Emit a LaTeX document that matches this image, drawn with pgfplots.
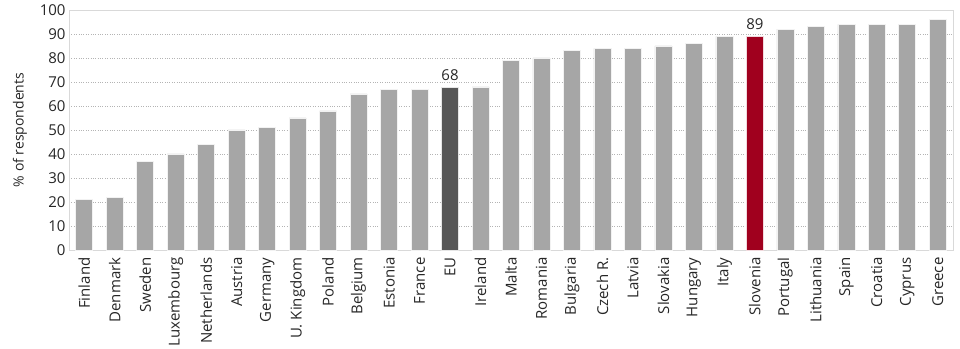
\documentclass[border=0pt]{standalone}
\usepackage{pgfplots}
\pgfplotsset{compat=1.18}
\usepackage{fontspec}
\setmainfont{Open Sans}
\definecolor{bargray}{HTML}{A6A6A6}
\definecolor{eugray}{HTML}{575757}
\definecolor{slored}{HTML}{A0001E}
\definecolor{framegray}{HTML}{D9D9D9}
\definecolor{gridgray}{HTML}{B4B4B4}
\begin{document}
\begin{tikzpicture}
\begin{axis}[
  name=ax,
  scale only axis,
  width=884bp, height=240bp,
  xmin=-0.5, xmax=28.5,
  ymin=0, ymax=100,
  ytick={0,10,...,100},
  xtick={0,...,28},
  xticklabels={Finland,Denmark,Sweden,Luxembourg,Netherlands,Austria,Germany,U. Kingdom,Poland,Belgium,Estonia,France,EU,Ireland,Malta,Romania,Bulgaria,Czech R.,Latvia,Slovakia,Hungary,Italy,Slovenia,Portugal,Lithuania,Spain,Croatia,Cyprus,Greece},
  x tick label style={rotate=90, anchor=east, font=\fontsize{15bp}{16bp}\selectfont, text=black!85, xshift=-4bp},
  y tick label style={font=\fontsize{15bp}{16bp}\selectfont, text=black!85},
  /pgf/number format/assume math mode=true,
  major tick length=0pt,
  ymajorgrids,
  grid style={dotted, gridgray, line width=0.6pt},
  axis line style={framegray, line width=0.8pt},
  ylabel={\% of respondents},
  ylabel style={font=\fontsize{14bp}{16bp}\selectfont, text=black!85, yshift=6bp},
  ybar, bar width=17bp, bar shift=0pt,
  nodes near coords style={font=\fontsize{15bp}{16bp}\selectfont, text=black!85, yshift=3bp},
]
\addplot[fill=bargray, draw=white!85!bargray, line width=0.6pt] coordinates {
(0,21) (1,22) (2,37) (3,40) (4,44) (5,50) (6,51) (7,55) (8,58) (9,65) (10,67) (11,67)
(13,68) (14,79) (15,80) (16,83) (17,84) (18,84) (19,85) (20,86) (21,89)
(23,92) (24,93) (25,94) (26,94) (27,94) (28,96)};
\addplot[fill=eugray, draw=white!85!eugray, line width=0.6pt, nodes near coords] coordinates {(12,68)};
\addplot[fill=slored, draw=white!85!slored, line width=0.6pt, nodes near coords] coordinates {(22,89)};
\end{axis}
\pgfresetboundingbox
\path[use as bounding box] ([shift={(-69bp,-99bp)}]ax.south west) rectangle ([shift={(7bp,10bp)}]ax.north east);
\end{tikzpicture}
\end{document}
